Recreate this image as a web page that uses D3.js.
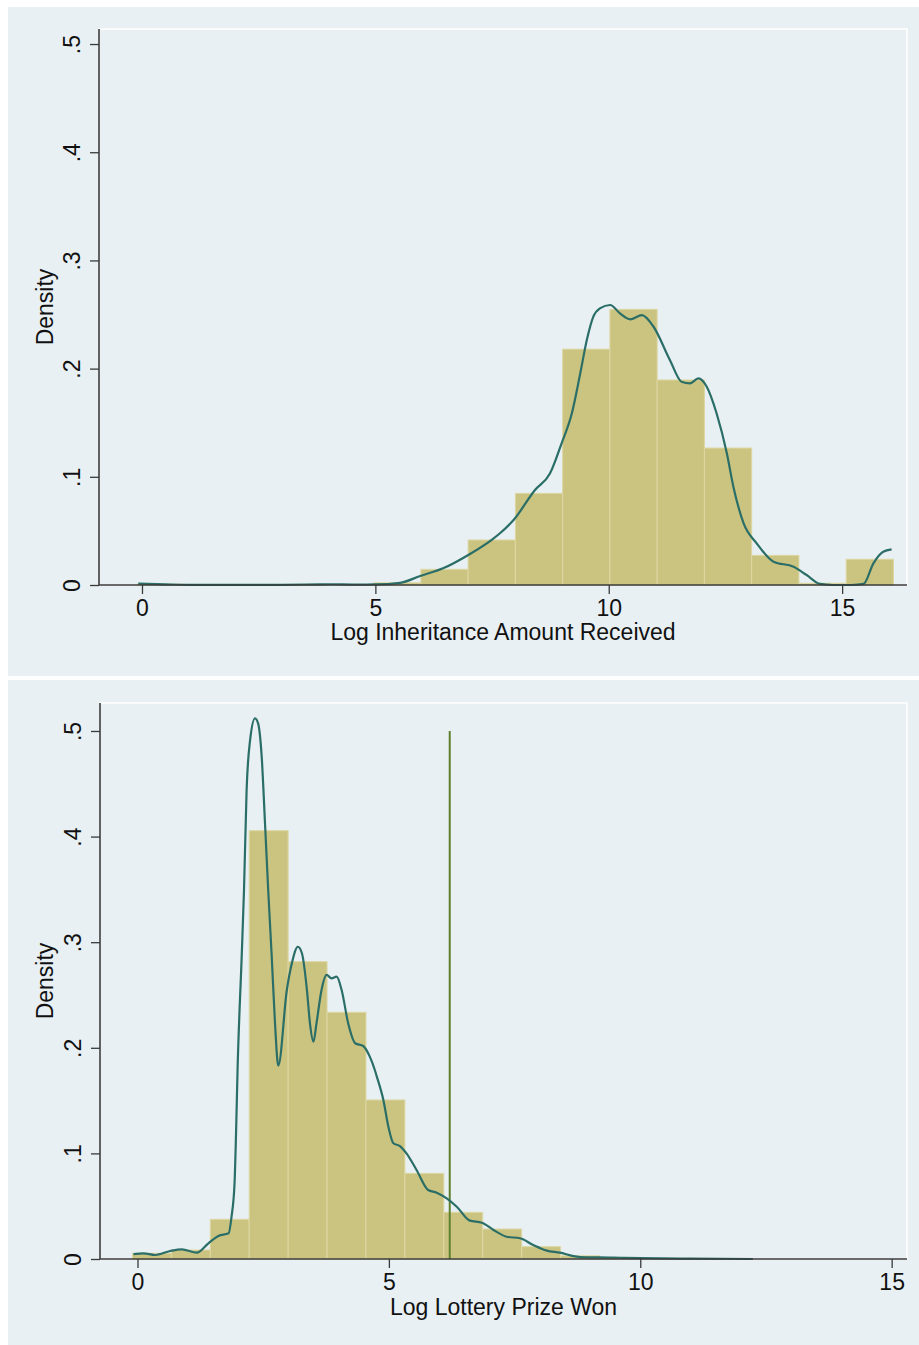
<!DOCTYPE html>
<html><head><meta charset="utf-8">
<script src="https://cdn.jsdelivr.net/npm/d3@7"></script>
<style>html,body{margin:0;padding:0;background:#fff;}svg{display:block;font-family:"Liberation Sans",Arial,sans-serif;}</style>
</head><body><svg id="c" width="919" height="1345"></svg>
<script>
// ---------- Data: Panel 1 (Log Inheritance Amount Received) ----------
const inhBinStart = -0.1, inhBinWidth = 1.0125;
const inhDensity = [0.0008, 0, 0, 0.0005, 0, 0.002, 0.0145, 0.0416, 0.0847, 0.218, 0.2548, 0.1895, 0.1266, 0.0274, 0.0016, 0.0238];
const inhKdeX = [-0.08, 0.5, 1, 2, 3, 3.8, 4.1, 4.5, 5, 5.53, 5.96, 6.45, 7.0, 7.5, 7.67, 7.96, 8.42, 8.74, 8.99, 9.21, 9.39, 9.53, 9.67, 9.81, 10.03, 10.24, 10.46, 10.71, 10.96, 11.31, 11.56, 11.74, 11.92, 12.1, 12.31, 12.53, 12.67, 12.89, 13.17, 13.53, 13.96, 14.24, 14.53, 14.81, 15.2, 15.46, 15.67, 15.88, 16.06];
const inhKdeY = [0.0012, 0.0006, 0.0002, 0.0001, 0.0002, 0.0006, 0.0007, 0.0004, 0.0005, 0.002, 0.0083, 0.0154, 0.028, 0.042, 0.0478, 0.060, 0.0878, 0.103, 0.131, 0.1587, 0.1957, 0.2264, 0.248, 0.2557, 0.2588, 0.2511, 0.2456, 0.2495, 0.2387, 0.208, 0.1879, 0.1864, 0.191, 0.1833, 0.1587, 0.1217, 0.0909, 0.057, 0.0385, 0.0215, 0.0169, 0.0092, 0.001, 0.0, 0.0, 0.001, 0.02, 0.0308, 0.033];
const inhXTicks = [0, 5, 10, 15];
const inhYTicks = [0, 0.1, 0.2, 0.3, 0.4, 0.5];
const inhXLabel = "Log Inheritance Amount Received";

// ---------- Data: Panel 2 (Log Lottery Prize Won) ----------
const lotBinStart = -0.1, lotBinWidth = 0.774;
const lotDensity = [0.0054, 0.0085, 0.0376, 0.4056, 0.2816, 0.2336, 0.1506, 0.0811, 0.0442, 0.0284, 0.0117, 0.003, 0.0015];
const lotKdeX = [-0.08, 0.12, 0.35, 0.65, 0.88, 1.18, 1.41, 1.61, 1.81, 1.87, 1.93, 1.96, 1.99, 2.072, 2.118, 2.17, 2.24, 2.337, 2.40, 2.47, 2.536, 2.60, 2.67, 2.735, 2.80, 2.97, 3.07, 3.19, 3.27, 3.37, 3.43, 3.50, 3.56, 3.66, 3.76, 3.86, 3.96, 4.06, 4.19, 4.33, 4.49, 4.62, 4.72, 4.76, 4.89, 4.99, 5.09, 5.22, 5.35, 5.55, 5.78, 5.95, 6.15, 6.35, 6.61, 6.85, 7.08, 7.34, 7.61, 7.87, 8.14, 8.40, 8.67, 8.93, 9.20, 9.6, 10.0, 11.0, 12.24];
const lotKdeY = [0.0047, 0.0054, 0.0038, 0.0076, 0.0092, 0.006, 0.0149, 0.0218, 0.0243, 0.040, 0.0717, 0.119, 0.179, 0.2863, 0.349, 0.444, 0.4915, 0.512, 0.507, 0.4757, 0.4126, 0.349, 0.286, 0.2232, 0.1830, 0.2547, 0.280, 0.2957, 0.2895, 0.2547, 0.2232, 0.2058, 0.2232, 0.2547, 0.269, 0.2658, 0.2673, 0.2547, 0.2232, 0.2043, 0.2017, 0.1916, 0.179, 0.1727, 0.1506, 0.1253, 0.1096, 0.107, 0.1001, 0.0843, 0.0653, 0.0628, 0.0575, 0.0495, 0.0363, 0.0344, 0.0275, 0.0211, 0.0196, 0.0133, 0.0079, 0.006, 0.0028, 0.0016, 0.0016, 0.0012, 0.0008, 0.0003, 0.0];
const lotXTicks = [0, 5, 10, 15];
const lotYTicks = [0, 0.1, 0.2, 0.3, 0.4, 0.5];
const lotXLabel = "Log Lottery Prize Won";
const lotVLineX = 6.21, lotVLineTop = 0.5;

// ---------- Styling ----------
const BG = "#e8f0f3", BAR = "#cbc480", BAR_EDGE = "#ddd7a3", KDE = "#2a6e67", VLINE = "#5e7f2e", AXIS = "#3a3a3a", TXT = "#111";
const FS = 23;
const svg = d3.select("#c");
const fmt = v => v === 0 ? "0" : d3.format(".1f")(v).replace(/^0/, "");

function panel(opts) {
  const g = svg.append("g");
  g.append("rect").attr("x", opts.bg[0]).attr("y", opts.bg[1]).attr("width", opts.bg[2]).attr("height", opts.bg[3]).attr("fill", BG);
  const x = d3.scaleLinear().domain(opts.xDomain).range([opts.left, opts.right]);
  const y = d3.scaleLinear().domain(opts.yDomain).range([opts.bottom, opts.top]);
  // plot region outline (white)
  g.append("rect").attr("x", opts.left).attr("y", opts.top).attr("width", opts.right - opts.left).attr("height", opts.bottom - opts.top)
    .attr("fill", "none").attr("stroke", "#fff").attr("stroke-width", 1.5);
  // bars
  const bars = opts.density.map((d, i) => ({x0: opts.binStart + i * opts.binWidth, x1: opts.binStart + (i + 1) * opts.binWidth, d}));
  g.append("g").selectAll("rect").data(bars.filter(b => b.d > 0)).join("rect")
    .attr("x", b => x(b.x0)).attr("width", b => x(b.x1) - x(b.x0))
    .attr("y", b => y(b.d)).attr("height", b => y(0) - y(b.d))
    .attr("fill", BAR).attr("stroke", BAR_EDGE).attr("stroke-width", 1);
  // vertical line
  if (opts.vline !== undefined) {
    g.append("line").attr("x1", x(opts.vline)).attr("x2", x(opts.vline)).attr("y1", y(opts.vlineTop)).attr("y2", y(0))
      .attr("stroke", VLINE).attr("stroke-width", 2);
  }
  // kde
  const pts = opts.kdeX.map((v, i) => [v, opts.kdeY[i]]);
  g.append("path").datum(pts).attr("fill", "none").attr("stroke", KDE).attr("stroke-width", 2.2)
    .attr("d", d3.line().x(p => x(p[0])).y(p => y(p[1])).curve(d3.curveMonotoneX));
  // axes
  const xa = g.append("g").attr("transform", `translate(0,${opts.bottom})`)
    .call(d3.axisBottom(x).tickValues(opts.xTicks).tickSize(9).tickSizeOuter(0).tickPadding(6).tickFormat(d3.format("d")));
  const ya = g.append("g").attr("transform", `translate(${opts.left},0)`)
    .call(d3.axisLeft(y).tickValues(opts.yTicks).tickSize(9).tickSizeOuter(0).tickFormat(fmt));
  [xa, ya].forEach(a => {
    a.attr("font-size", FS).attr("font-family", "Liberation Sans, Arial, sans-serif");
    a.select(".domain").attr("stroke", AXIS).attr("stroke-width", 1.6);
    a.selectAll(".tick line").attr("stroke", AXIS).attr("stroke-width", 1.3);
    a.selectAll("text").attr("fill", TXT).attr("font-size", FS);
  });
  ya.select(".domain").attr("d", `M0,${opts.bottom}V${opts.top}`);
  xa.select(".domain").attr("d", `M${opts.left},0H${opts.right}`);
  ya.selectAll(".tick text").attr("x", null).attr("dy", null).attr("text-anchor", "middle")
    .attr("transform", "translate(-19,0) rotate(-90)");
  xa.selectAll(".tick text").attr("dy", "0.71em");
  // titles
  g.append("text").attr("x", (opts.left + opts.right) / 2).attr("y", opts.xTitleY).attr("text-anchor", "middle")
    .attr("font-size", FS).attr("fill", TXT).text(opts.xLabel);
  g.append("text").attr("transform", `translate(${opts.yTitleX},${(opts.top + opts.bottom) / 2}) rotate(-90)`)
    .attr("text-anchor", "middle").attr("font-size", FS).attr("fill", TXT).text("Density");
}

panel({
  bg: [8, 7, 911, 669],
  left: 99, right: 907, top: 29, bottom: 585,
  xDomain: [-0.921, 16.39], yDomain: [0, 0.5139],
  binStart: inhBinStart, binWidth: inhBinWidth, density: inhDensity,
  kdeX: inhKdeX, kdeY: inhKdeY, xTicks: inhXTicks, yTicks: inhYTicks,
  xLabel: inhXLabel, xTitleY: 640, yTitleX: 53
});
panel({
  bg: [8, 680, 911, 665],
  left: 100, right: 907, top: 703, bottom: 1259,
  xDomain: [-0.746, 15.305], yDomain: [0, 0.5265],
  binStart: lotBinStart, binWidth: lotBinWidth, density: lotDensity,
  kdeX: lotKdeX, kdeY: lotKdeY, xTicks: lotXTicks, yTicks: lotYTicks,
  vline: lotVLineX, vlineTop: lotVLineTop,
  xLabel: lotXLabel, xTitleY: 1315, yTitleX: 53
});
</script></body></html>
